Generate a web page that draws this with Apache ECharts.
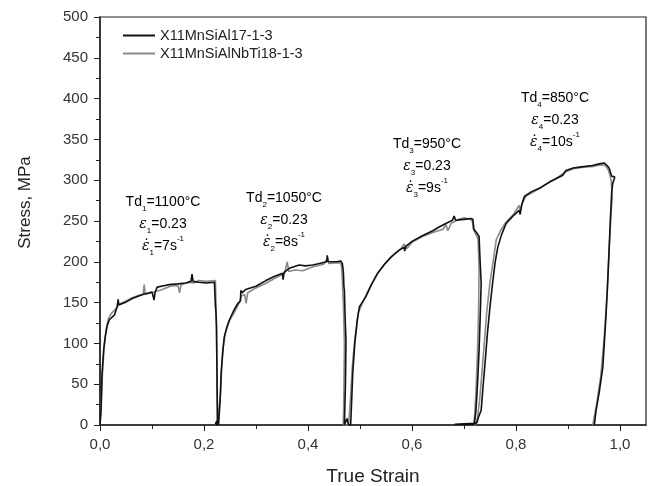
<!DOCTYPE html>
<html>
<head>
<meta charset="utf-8">
<script src="https://cdn.jsdelivr.net/npm/echarts@6/dist/echarts.min.js"></script>
<style>
  html, body { margin: 0; padding: 0; background: #fff; }
  #chart { width: 652px; height: 486px; }
</style>
</head>
<body>
<div id="chart"></div>
<script>
// series names
const seriesNames = ["X11MnSiAl17-1-3", "X11MnSiAlNbTi18-1-3"];

// axis ticks
const strainTicks = [0, 0.2, 0.4, 0.6, 0.8, 1.0];
const strainMinorTicks = [0.1, 0.3, 0.5, 0.7, 0.9];

// X11MnSiAl17-1-3 (black), [true strain, stress MPa], four passes
const alloyA = [
  // pass 1
  [0, 0], [0.002, 20], [0.004, 64], [0.007, 92], [0.010, 108], [0.014, 122], [0.018, 129],
  [0.028, 135], [0.033, 145], [0.035, 154], [0.036, 147], [0.048, 150], [0.062, 155],
  [0.082, 160], [0.100, 163], [0.103, 163], [0.104, 153], [0.106, 163], [0.110, 169],
  [0.125, 171], [0.133, 172], [0.150, 173], [0.165, 174], [0.175, 176], [0.177, 185],
  [0.179, 176], [0.190, 175], [0.204, 174], [0.220, 175], [0.221, 160], [0.222, 145],
  [0.223, 138], [0.224, 120], [0.225, 60], [0.226, 0], [0.222, 2], [0.225, 5], [0.228, 0],
  // pass 2
  [0.229, 0], [0.231, 30], [0.233, 64], [0.236, 90], [0.239, 108], [0.244, 120],
  [0.249, 129], [0.257, 140], [0.265, 149], [0.270, 152], [0.271, 165], [0.273, 162],
  [0.280, 166], [0.300, 170], [0.319, 177], [0.335, 182], [0.351, 186], [0.352, 178],
  [0.354, 187], [0.364, 192], [0.383, 196], [0.395, 195], [0.409, 196], [0.422, 198],
  [0.436, 200], [0.437, 208], [0.439, 200], [0.455, 200], [0.463, 201], [0.466, 198],
  [0.468, 188], [0.469, 170], [0.470, 165], [0.471, 140], [0.472, 120], [0.473, 104],
  [0.472, 50], [0.470, 0], [0.475, 8], [0.478, 0],
  // pass 3
  [0.482, 0], [0.484, 30], [0.486, 63], [0.490, 100], [0.495, 130], [0.499, 145],
  [0.511, 157], [0.522, 172], [0.534, 186], [0.547, 197], [0.560, 206], [0.575, 214],
  [0.585, 218], [0.586, 213], [0.588, 219], [0.600, 225], [0.620, 232], [0.640, 238],
  [0.653, 243], [0.665, 247], [0.678, 251], [0.681, 256], [0.684, 251], [0.700, 252],
  [0.713, 253], [0.717, 252], [0.719, 240], [0.722, 238], [0.726, 234], [0.729, 231],
  [0.731, 200], [0.733, 174], [0.731, 130], [0.729, 92], [0.726, 50], [0.723, 18],
  [0.720, 2], [0.718, 0], [0.682, 1], [0.720, 1],
  // pass 4
  [0.725, 3], [0.728, 10], [0.733, 18], [0.737, 50], [0.741, 80], [0.745, 112],
  [0.750, 145], [0.755, 174], [0.760, 200], [0.765, 218], [0.772, 233], [0.781, 247],
  [0.794, 256], [0.806, 263], [0.808, 258], [0.811, 270], [0.816, 280], [0.830, 286],
  [0.845, 290], [0.865, 298], [0.890, 306], [0.893, 306], [0.896, 312], [0.910, 315],
  [0.922, 316], [0.947, 318], [0.960, 320], [0.970, 321], [0.975, 318], [0.979, 315],
  [0.984, 305], [0.990, 304], [0.986, 296], [0.984, 285], [0.983, 272], [0.981, 245],
  [0.979, 214], [0.976, 170], [0.973, 133], [0.967, 71], [0.960, 40], [0.954, 18],
  [0.951, 2], [0.950, 0]
];

// X11MnSiAlNbTi18-1-3 (grey)
const alloyB = [
  // pass 1
  [0, 0], [0.002, 15], [0.004, 55], [0.008, 95], [0.012, 118], [0.016, 130], [0.022, 137],
  [0.030, 142], [0.036, 148], [0.050, 152], [0.062, 156], [0.075, 159], [0.083, 160],
  [0.085, 172], [0.087, 160], [0.100, 162], [0.120, 166], [0.135, 170], [0.150, 171],
  [0.153, 162], [0.156, 172], [0.170, 175], [0.180, 174], [0.190, 177], [0.205, 176],
  [0.222, 177], [0.223, 150], [0.224, 120], [0.225, 60], [0.226, 0],
  // pass 2
  [0.229, 0], [0.232, 40], [0.234, 70], [0.237, 95], [0.241, 112], [0.249, 128],
  [0.260, 140], [0.268, 150], [0.272, 158], [0.278, 160], [0.281, 149], [0.284, 162],
  [0.300, 168], [0.320, 174], [0.340, 181], [0.355, 186], [0.360, 200], [0.363, 188],
  [0.375, 190], [0.390, 189], [0.410, 194], [0.430, 197], [0.437, 204], [0.440, 198],
  [0.460, 199], [0.464, 197], [0.466, 180], [0.467, 160], [0.468, 150], [0.470, 100],
  [0.469, 40], [0.468, 0],
  // pass 3
  [0.478, 0], [0.482, 35], [0.485, 70], [0.490, 105], [0.497, 138], [0.505, 150],
  [0.520, 170], [0.535, 187], [0.550, 199], [0.565, 209], [0.580, 217], [0.585, 222],
  [0.590, 216], [0.600, 224], [0.620, 231], [0.640, 236], [0.660, 240], [0.665, 246],
  [0.669, 238], [0.675, 247], [0.690, 252], [0.700, 254], [0.712, 252], [0.716, 250],
  [0.718, 240], [0.724, 232], [0.727, 228], [0.729, 190], [0.728, 140], [0.726, 90],
  [0.723, 40], [0.720, 8], [0.718, 0],
  // pass 4
  [0.722, 0], [0.726, 10], [0.730, 30], [0.734, 60], [0.739, 100], [0.744, 140],
  [0.750, 175], [0.756, 200], [0.762, 227], [0.770, 238], [0.780, 248], [0.795, 258],
  [0.806, 269], [0.808, 262], [0.812, 272], [0.820, 281], [0.840, 288], [0.860, 296],
  [0.880, 303], [0.890, 308], [0.895, 310], [0.910, 314], [0.930, 316], [0.950, 317],
  [0.965, 319], [0.972, 318], [0.978, 312], [0.983, 300], [0.985, 280], [0.982, 250],
  [0.979, 214], [0.975, 160], [0.970, 110], [0.963, 60], [0.955, 25], [0.949, 5],
  [0.948, 0]
];

// deformation conditions for each pass
const passTemps = ["1100", "1050", "950", "850"];
const passStrain = "0.23";
const passRates = ["7", "8", "9", "10"];

const chart = echarts.init(document.getElementById("chart"));

const fontMain = "Liberation Sans, Arial, sans-serif";
const richStyle = {
  a: { fontSize: 14, fontFamily: fontMain, color: "#222", lineHeight: 22 },
  e: { fontSize: 14, fontFamily: "DejaVu Serif", fontStyle: "italic", color: "#222", lineHeight: 22 },
  s: { fontSize: 8, fontFamily: fontMain, color: "#777", lineHeight: 10, verticalAlign: "bottom" },
  p: { fontSize: 8, fontFamily: fontMain, color: "#777", lineHeight: 10, verticalAlign: "top" }
};

// label block positions (px), centre x / top y
const blockPos = [[163, 191], [284, 187], [427, 133], [555, 87]];

const labelBlocks = passTemps.map((t, i) => {
  const n = i + 1;
  return {
    type: "text",
    x: blockPos[i][0],
    y: blockPos[i][1],
    style: {
      text:
        "{a|Td}{s|" + n + "}{a|=" + t + "°C}\n" +
        "{e|ε}{s|" + n + "}{a|=" + passStrain + "}\n" +
        "{e|ε̇}{s|" + n + "}{a|=" + passRates[i] + "s}{p|-1}",
      rich: richStyle,
      align: "center",
      verticalAlign: "top"
    }
  };
});

const option = {
  animation: false,
  backgroundColor: "#fff",
  grid: {
    left: 100, right: 6, top: 17, bottom: 61,
    outerBoundsMode: "none",
    show: true, borderColor: "#222", borderWidth: 1.2
  },
  legend: {
    data: seriesNames,
    orient: "vertical",
    left: 118, top: 23,
    icon: "rect",
    itemWidth: 32, itemHeight: 2, itemGap: 3,
    textStyle: { fontSize: 14.5, fontFamily: fontMain, color: "#222" }
  },
  xAxis: [
    {
      type: "value", min: 0, max: 1.05,
      name: "True Strain", nameLocation: "middle", nameGap: 42,
      nameTextStyle: { fontSize: 19, fontFamily: fontMain, color: "#222" },
      axisLine: { lineStyle: { color: "#222", width: 1.5 } },
      axisTick: { inside: false, length: 6, customValues: strainTicks, lineStyle: { color: "#222" } },
      axisLabel: {
        customValues: strainTicks, margin: 12, fontSize: 15, fontFamily: fontMain, color: "#333",
        formatter: v => v.toFixed(1).replace(".", ",")
      },
      splitLine: { show: false }
    },
    {
      type: "value", min: 0, max: 1.05, position: "bottom",
      axisLine: { show: false },
      axisTick: { length: 4, customValues: strainMinorTicks, lineStyle: { color: "#222" } },
      axisLabel: { show: false },
      splitLine: { show: false }
    }
  ],
  yAxis: {
    type: "value", min: 0, max: 500, interval: 50,
    name: "Stress, MPa", nameLocation: "middle", nameGap: 66,
    nameTextStyle: { fontSize: 17, fontFamily: fontMain, color: "#222", padding: [0, 0, 0, 37] },
    axisLine: { show: true, lineStyle: { color: "#222", width: 1.5 } },
    axisTick: { show: true, length: 6, lineStyle: { color: "#222" } },
    minorTick: { show: true, splitNumber: 2, length: 4, lineStyle: { color: "#222" } },
    axisLabel: { margin: 12, fontSize: 15, fontFamily: fontMain, color: "#333" },
    splitLine: { show: false }
  },
  series: [
    {
      name: seriesNames[1], type: "line", data: alloyB, symbol: "none",
      lineStyle: { color: "#8a8a8a", width: 1.6 }, itemStyle: { color: "#8a8a8a" }, z: 2
    },
    {
      name: seriesNames[0], type: "line", data: alloyA, symbol: "none",
      lineStyle: { color: "#111", width: 1.6 }, itemStyle: { color: "#111" }, z: 3
    }
  ],
  graphic: labelBlocks
};

chart.setOption(option);
</script>
</body>
</html>
